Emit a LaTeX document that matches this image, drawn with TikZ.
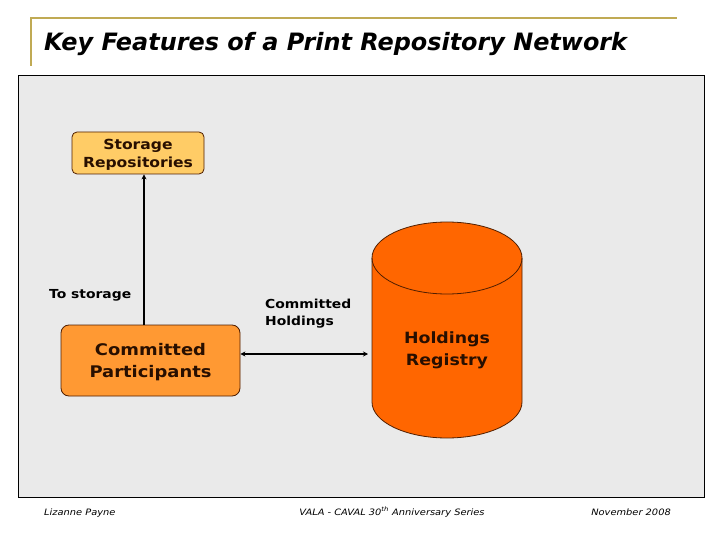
\documentclass[tikz,border=0pt]{standalone}
\usepackage{fontspec}
\setmainfont{DejaVu Sans}
\newfontfamily\widefont{DejaVu Sans}[FakeStretch=1.12]
\usetikzlibrary{arrows.meta}
\definecolor{gold}{RGB}{192,170,84}
\definecolor{panel}{RGB}{234,234,234}
\definecolor{lightor}{RGB}{255,204,102}
\definecolor{midor}{RGB}{255,153,51}
\definecolor{darkor}{RGB}{255,102,0}
\definecolor{brownline}{RGB}{80,30,0}
\definecolor{browntext}{RGB}{40,15,0}
\tikzset{
  boxnode/.style={draw=brownline, line width=0.8pt, rounded corners=5pt, align=center, text=browntext, inner sep=0pt},
  lbl/.style={font=\widefont\bfseries\fontsize{12.4}{17}\selectfont, align=left, inner sep=0pt},
  conn/.style={line width=1.6pt, -{Stealth[length=5pt,width=5pt]}},
  foot/.style={font=\widefont\itshape\fontsize{8.8}{10}\selectfont, inner sep=0pt}
}
\begin{document}
\begin{tikzpicture}[x=1pt,y=-1pt]
\useasboundingbox (0,0) rectangle (720,540);
\fill[white] (0,0) rectangle (720,540);
% title rule
\draw[gold, line width=1.5pt] (31,66) -- (31,18) -- (677,18);
\node[anchor=base west, inner sep=0pt, font=\bfseries\itshape\fontsize{23.9}{26}\selectfont] (title) at (44,51) {Key Features of a Print Repository Network};
% panel
\draw[fill=panel, draw=black, line width=0.8pt] (18,75) rectangle (704,497);
% storage repositories
\node[boxnode, fill=lightor, minimum width=132pt, minimum height=42pt, font=\widefont\bfseries\fontsize{13.9}{18}\selectfont] (store) at (138,153) {};
\node[font=\widefont\bfseries\fontsize{13.9}{18}\selectfont, align=center, text=browntext, inner sep=0pt] (storetxt) at (138,154.5) {Storage\\Repositories};
% committed participants
\node[boxnode, fill=midor, minimum width=179pt, minimum height=71pt, rounded corners=8pt] (part) at (150.5,360.5) {};
\node[font=\widefont\bfseries\fontsize{16}{22}\selectfont, align=center, text=browntext, inner sep=0pt] (parttxt) at (150.5,362) {Committed\\Participants};
% cylinder
\fill[darkor] (372,258) -- (372,402) arc[start angle=180, end angle=0, x radius=75, y radius=36] -- (522,258) arc[start angle=360, end angle=180, x radius=75, y radius=36] -- cycle;
\draw[brownline, line width=0.8pt] (372,258) -- (372,402) arc[start angle=180, end angle=0, x radius=75, y radius=36] -- (522,258);
\draw[brownline, line width=0.8pt] (447,258) ellipse[x radius=75, y radius=36];
\node[font=\widefont\bfseries\fontsize{15.5}{22}\selectfont, align=center, text=browntext, inner sep=0pt] (reg) at (447,350.5) {Holdings\\Registry};
% connectors
\coordinate (partTop) at (144,325);
\draw[conn] (partTop) -- (store.south -| partTop);
\coordinate (regL) at (368,354);
\draw[conn, {Stealth[length=5pt,width=5pt]}-{Stealth[length=5pt,width=5pt]}] (part.east |- regL) -- (regL);
% labels
\node[lbl, anchor=west] (tostore) at (49,295) {To storage};
\node[lbl, anchor=north west] (hold) at (265,298.5) {Committed\\Holdings};
% footer
\node[foot, anchor=base west] (f1) at (44,515) {Lizanne Payne};
\node[foot, anchor=base] (f2) at (392,515) {VALA - CAVAL 30\textsuperscript{th} Anniversary Series};
\node[foot, anchor=base east] (f3) at (671,515) {November 2008};
\end{tikzpicture}
\end{document}
